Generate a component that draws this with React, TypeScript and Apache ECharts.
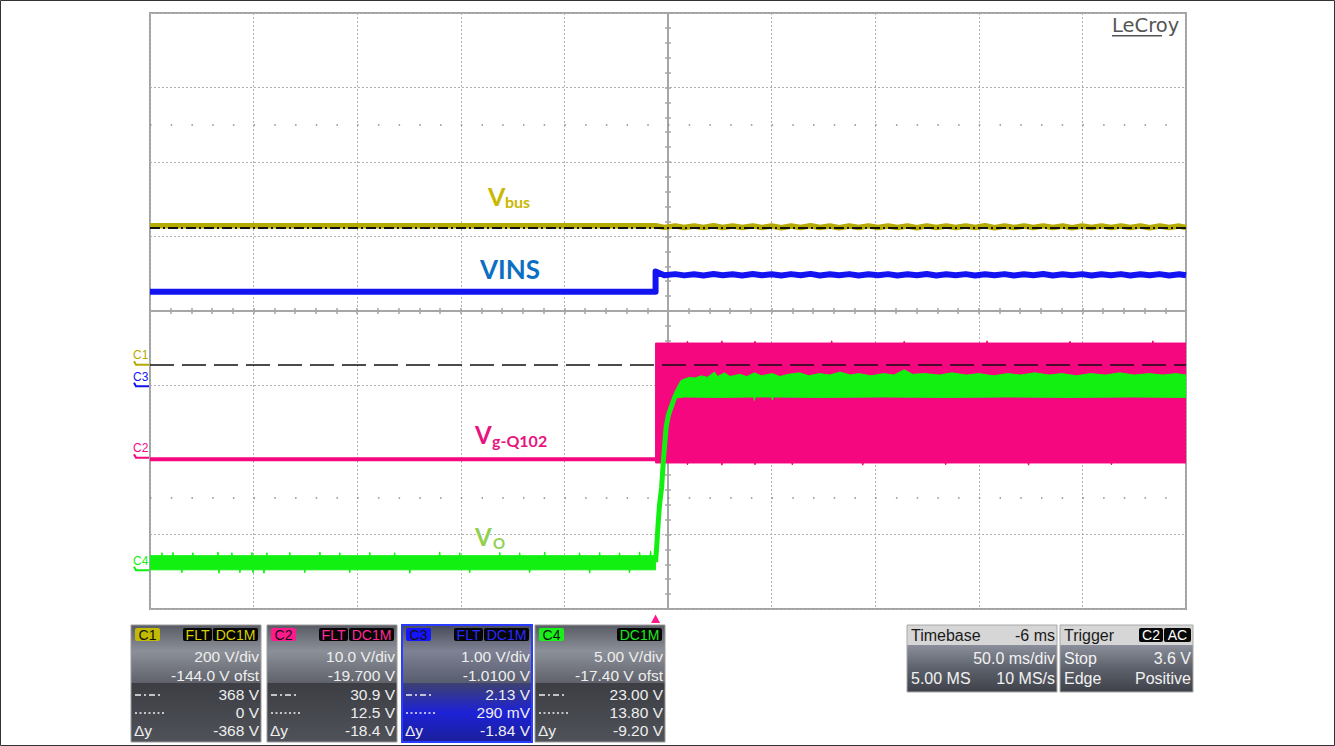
import React, { useEffect, useRef } from "react";
import * as echarts from "echarts";

// ---------- Acquisition settings ----------
// 50 ms/div, 10 divisions, trigger delay -6 ms  -> screen spans -244 ms .. 256 ms
const timeRange: [number, number] = [-244, 256];
const chNames = ["C1", "C2", "C3", "C4"];
const chScale = [200, 10, 1, 5]; // V/div
const chOffset = [-144, -19.7, -1.01, -17.4]; // V offset
const chTrace = ["#b4aa00", "#f5077f", "#1414f2", "#12f012"];
const chBadge = ["#c2ba00", "#ff1a8c", "#1414ff", "#18f018"];
const chBadgeText = ["#d8d000", "#ff2a96", "#2a2aff", "#1ee81e"];

// ---------- C1 : Vbus (V) ----------
const vbusPre: [number, number][] = [[-244, 373], [0, 373]];
const vbusPost: [number, number][] = [
  [0, 372], [4.2, 368.5], [9.5, 372.5], [13.8, 368], [18.6, 372], [23.1, 368], [28.0, 373], [32.4, 368],
  [37.2, 372], [41.8, 368], [46.9, 372.5], [51.3, 368], [56.0, 372], [60.7, 367.5], [65.4, 372], [70.0, 368],
  [74.8, 373], [79.3, 368], [84.1, 372], [88.6, 367.5], [93.5, 372], [98.0, 368], [102.8, 372.5], [107.4, 368],
  [112.2, 372], [116.7, 368], [121.6, 372], [126.1, 367.5], [130.9, 372.5], [135.5, 368], [140.3, 372], [144.8, 368],
  [149.7, 372], [154.2, 368], [159.0, 373], [163.6, 367.5], [168.4, 372], [172.9, 368], [177.8, 372], [182.3, 368],
  [187.1, 372.5], [191.7, 368], [196.5, 372], [201.0, 367.5], [205.9, 372], [210.4, 368], [215.2, 372.5], [219.8, 368],
  [224.6, 372], [229.1, 368], [234.0, 372], [238.5, 367.5], [243.3, 372], [247.9, 368], [252.7, 372], [256, 368],
];

// ---------- C3 : VINS (V) ----------
const vinsPre: [number, number][] = [[-244, 1.268], [0, 1.268]];
const vinsPost: [number, number][] = [
  [0, 1.54], [4.2, 1.49], [9.5, 1.505], [13.8, 1.488], [18.6, 1.503], [23.1, 1.487], [28.0, 1.507], [32.4, 1.49],
  [37.2, 1.503], [41.8, 1.487], [46.9, 1.506], [51.3, 1.49], [56.0, 1.503], [60.7, 1.486], [65.4, 1.505], [70.0, 1.49],
  [74.8, 1.508], [79.3, 1.487], [84.1, 1.503], [88.6, 1.49], [93.5, 1.505], [98.0, 1.486], [102.8, 1.503], [107.4, 1.49],
  [112.2, 1.505], [116.7, 1.487], [121.6, 1.503], [126.1, 1.49], [130.9, 1.507], [135.5, 1.486], [140.3, 1.503], [144.8, 1.49],
  [149.7, 1.505], [154.2, 1.487], [159.0, 1.503], [163.6, 1.49], [168.4, 1.505], [172.9, 1.486], [177.8, 1.503], [182.3, 1.49],
  [187.1, 1.507], [191.7, 1.487], [196.5, 1.503], [201.0, 1.49], [205.9, 1.505], [210.4, 1.486], [215.2, 1.503], [219.8, 1.49],
  [224.6, 1.505], [229.1, 1.487], [234.0, 1.503], [238.5, 1.49], [243.3, 1.505], [247.9, 1.486], [252.7, 1.503], [256, 1.49],
];

// ---------- C2 : Vg-Q102 (V) ----------
const vgPre: [number, number][] = [[-244, -0.2], [0, -0.2]];
const vgBandSpan: [number, number] = [0, 256];
const vgBandHigh = 15.4;
const vgBandLow = -0.7;
const vgHighSpikes: [number, number][] = [[15.4, 15.65], [32, 15.7], [48, 15.65], [85, 15.7], [120, 15.65], [160, 15.7], [200, 15.65], [240, 15.7]];
const vgLowSpikes: [number, number][] = [[15.4, -0.95], [32, -1.0], [48, -0.95], [66, -0.95], [100, -1.0], [140, -0.95], [180, -1.0], [220, -0.95]];

// ---------- C4 : Vo (V) ----------
const voPreSpan: [number, number] = [-244, 0];
const voPreHigh = 0.98;
const voPreLow = 0.03;
const voPreUpSpikes: [number, number][] = [
  [-238.2, 1.18], [-232.9, 1.2], [-223.3, 1.18], [-211.2, 1.23], [-204.5, 1.18], [-194.8, 1.2], [-187.6, 1.18],
  [-176.5, 1.2], [-162.0, 1.23], [-152.4, 1.18], [-137.9, 1.2], [-125.9, 1.18], [-104.2, 1.23], [-94.5, 1.18],
  [-75.2, 1.2], [-65.6, 1.18], [-53.5, 1.23], [-36.7, 1.18], [-27.0, 1.2], [-17.4, 1.18], [-7.7, 1.23], [-2.4, 1.3],
];
const voPreDownSpikes: [number, number][] = [
  [-228.6, -0.17], [-210.7, -0.2], [-200.6, -0.17], [-194.3, -0.17], [-189.0, -0.2], [-169.3, -0.17],
  [-147.6, -0.17], [-118.6, -0.2], [-89.7, -0.17], [-60.8, -0.17], [-31.8, -0.2], [-12.6, -0.17],
];
const voRise: [number, number][] = [
  [0, 0.55], [0.5, 1.5], [1.2, 3.04], [1.9, 4.38], [2.9, 5.52], [3.8, 7.4], [5.1, 9.61], [6.2, 10.42],
  [7.7, 11.02], [9.1, 11.56], [10.6, 12.03], [13.0, 12.63], [15.4, 12.77],
];
const voPlateauHigh: [number, number][] = [
  [9.1, 11.56], [13.0, 12.7], [16, 12.95], [19, 12.9], [22, 13.05], [25, 12.95], [28.4, 13.3], [30, 13.0], [33.2, 13.25],
  [36, 13.0], [40.5, 13.15], [44, 13.0], [47.7, 13.25], [51, 13.05], [56.4, 13.2], [60, 13.0], [64, 13.15], [69.4, 13.25],
  [74, 13.05], [79, 13.2], [84, 13.1], [89, 13.3], [94, 13.1], [98, 13.2], [104, 13.05], [110, 13.2], [115, 13.1],
  [120, 13.45], [124, 13.15], [130, 13.2], [137, 13.1], [143, 13.25], [150, 13.1], [156, 13.2], [163, 13.05], [170, 13.2],
  [176, 13.1], [183, 13.25], [190, 13.1], [196, 13.2], [203, 13.05], [210, 13.2], [217, 13.1], [224, 13.25], [231, 13.1],
  [238, 13.2], [245, 13.1], [251, 13.2], [256, 13.1],
];
const voPlateauLow: [number, number][] = [
  [9.1, 11.56], [14, 11.63], [30, 11.6], [47.3, 11.63], [47.7, 11.4], [48.1, 11.63], [56.0, 11.63], [56.4, 11.42],
  [56.8, 11.63], [80, 11.6], [110, 11.63], [140, 11.6], [170, 11.63], [200, 11.6], [230, 11.63], [256, 11.6],
];

// ---------- Cursors (C1 units) ----------
const cursorDashDot = 368;
const cursorDashed = 0;

// ---------- Panel texts ----------
const panelBadges = [["FLT", "DC1M"], ["FLT", "DC1M"], ["FLT", "DC1M"], ["DC1M"]];
const panelScale = ["200 V/div", "10.0 V/div", "1.00 V/div", "5.00 V/div"];
const panelOffset = ["-144.0 V ofst", "-19.700 V", "-1.0100 V", "-17.40 V ofst"];
const panelCursor1 = ["368 V", "30.9 V", "2.13 V", "23.00 V"];
const panelCursor2 = ["0 V", "12.5 V", "290 mV", "13.80 V"];
const panelDelta = ["-368 V", "-18.4 V", "-1.84 V", "-9.20 V"];
const timebaseRows = [["Timebase", "-6 ms"], ["", "50.0 ms/div"], ["5.00 MS", "10 MS/s"]];
const triggerRows = [["Trigger", ""], ["Stop", "3.6 V"], ["Edge", "Positive"]];
const triggerBadges = ["C2", "AC"];

// ---------- Trace annotations ----------
const annoMain = ["V", "VINS", "V", "V"];
const annoSub = ["bus", "", "g-Q102", "O"];
const annoColor = ["#c9b800", "#0b6fc2", "#e8137f", "#92d050"];

// ---------- layout constants ----------
const GL = 150, GT = 13, GW = 1036, GH = 596;
const DIVY = GH / 8;
const CY = GT + GH / 2;
const UI = "'Liberation Sans', Arial, sans-serif";
const LAB = "Lato, 'Open Sans', sans-serif";

function spikedEdge(span: [number, number], level: number, spikes: [number, number][]): [number, number][] {
  const pts: [number, number][] = [[span[0], level]];
  spikes.forEach(([t, v]) => {
    pts.push([t - 0.3, level], [t, v], [t + 0.3, level]);
  });
  pts.push([span[1], level]);
  return pts;
}

function bandSeries(top: [number, number][], bottom: [number, number][], yAxisIndex: number, color: string, z: number) {
  return {
    type: "custom",
    xAxisIndex: 2,
    yAxisIndex,
    z,
    silent: true,
    clip: true,
    data: [top[0]],
    renderItem: (_p: any, api: any) => {
      const pts = top.map((p) => api.coord(p)).concat(bottom.slice().reverse().map((p) => api.coord(p)));
      return { type: "polygon", shape: { points: pts }, style: { fill: color, stroke: color, lineWidth: 1 } };
    },
  };
}

function txt(x: number, y: number, text: string, size: number, color: string, extra: any = {}) {
  const align = extra.align || "left";
  return {
    type: "text",
    x,
    y,
    z: 100,
    silent: true,
    style: {
      text,
      fontSize: size,
      fontFamily: extra.fontFamily || UI,
      fontWeight: extra.fontWeight || "normal",
      fill: color,
      align,
      textAlign: align,
      verticalAlign: "middle",
      textVerticalAlign: "middle",
    },
  };
}

function grad(stops: [number, string][]) {
  return new echarts.graphic.LinearGradient(0, 0, 0, 1, stops.map(([offset, color]) => ({ offset, color })));
}

function buildGraphic() {
  const g: any[] = [];
  // annotations
  const annoPos = [
    { x: 488, y: 195.5, sx: 505, sy: 201, s: 25, ss: 16 },
    { x: 480, y: 269, sx: 0, sy: 0, s: 26, ss: 16 },
    { x: 475, y: 434, sx: 492, sy: 440.5, s: 24, ss: 16 },
    { x: 475, y: 536, sx: 493, sy: 542.5, s: 24, ss: 15 },
  ];
  annoMain.forEach((m, i) => {
    const p = annoPos[i];
    g.push(txt(p.x, p.y, m, p.s, annoColor[i], { fontFamily: LAB, fontWeight: "bold" }));
    if (annoSub[i]) g.push(txt(p.sx, p.sy, annoSub[i], p.ss, annoColor[i], { fontFamily: LAB, fontWeight: "bold" }));
  });
  // channel ground markers (0 V level of each channel)
  chNames.forEach((n, k) => {
    const gy = CY - (chOffset[k] / chScale[k]) * DIVY;
    g.push(txt(133, gy - 9.5, n, 12, chTrace[k]));
    g.push({
      type: "polyline",
      z: 100,
      silent: true,
      shape: { points: [[134, gy - 3.5], [136, gy], [149, gy]] },
      style: { stroke: chTrace[k], lineWidth: 2, fill: "none" },
    });
  });
  // trigger marker
  const tx = GL + ((0 - timeRange[0]) / (timeRange[1] - timeRange[0])) * GW;
  g.push({
    type: "polygon",
    z: 100,
    silent: true,
    shape: { points: [[tx - 4.5, 623], [tx, 614.5], [tx + 4.5, 623]] },
    style: { fill: "#ff1a8c" },
  });
  // LeCroy logo
  g.push(txt(1112, 25, "LeCroy", 19.5, "#555555", { fontFamily: "'DejaVu Sans', sans-serif" }));
  g.push({ type: "line", z: 100, silent: true, shape: { x1: 1112, y1: 35.7, x2: 1162, y2: 35.7 }, style: { stroke: "#555555", lineWidth: 1.4 } });

  // channel panels
  const panelLeft = [131, 267, 402, 535];
  const PW = 130, PT = 625, PH1 = 58, PH2 = 59;
  chNames.forEach((n, i) => {
    const L = panelLeft[i];
    const sel = i === 2;
    g.push({
      type: "rect", z: 90, silent: true,
      shape: { x: L, y: PT, width: PW, height: PH1 },
      style: { fill: sel ? grad([[0, "#474a57"], [0.45, "#7e8294"], [1, "#585c6f"]]) : grad([[0, "#585b63"], [0.45, "#8c9098"], [1, "#5f626a"]]) },
    });
    g.push({
      type: "rect", z: 90, silent: true,
      shape: { x: L, y: PT + PH1, width: PW, height: PH2 },
      style: { fill: sel ? grad([[0, "#3d4170"], [0.5, "#1d22d6"], [1, "#1b1f9a"]]) : grad([[0, "#3c3e44"], [1, "#505259"]]) },
    });
    g.push({
      type: "rect", z: 91, silent: true,
      shape: { x: L, y: PT, width: PW, height: PH1 + PH2 },
      style: { fill: "none", stroke: sel ? "#2a3cff" : "#9a9a9a", lineWidth: sel ? 2 : 1 },
    });
    // channel badge
    g.push({ type: "rect", z: 92, silent: true, shape: { x: L + 4, y: 628, width: 25, height: 13, r: 2 }, style: { fill: chBadge[i] } });
    g.push(txt(L + 16.5, 634.8, n, 14, "#111", { align: "center" }));
    const bx = panelBadges[i].length === 2 ? [L + 52, L + 82] : [L + 82];
    const bw = panelBadges[i].length === 2 ? [29, 45] : [45];
    panelBadges[i].forEach((b, j) => {
      g.push({ type: "rect", z: 92, silent: true, shape: { x: bx[j], y: 628, width: bw[j], height: 13, r: 2 }, style: { fill: "#060606" } });
      g.push(txt(bx[j] + bw[j] / 2, 634.8, b, 14, chBadgeText[i], { align: "center" }));
    });
    const R = L + 128;
    const col = "#eeeeee";
    g.push(txt(R, 656.5, panelScale[i], 15.5, col, { align: "right" }));
    g.push(txt(R, 675, panelOffset[i], 15.5, col, { align: "right" }));
    g.push(txt(R, 694.5, panelCursor1[i], 15.5, col, { align: "right" }));
    g.push(txt(R, 712.5, panelCursor2[i], 15.5, col, { align: "right" }));
    g.push(txt(R, 730, panelDelta[i], 15.5, col, { align: "right" }));
    g.push({ type: "line", z: 100, silent: true, shape: { x1: L + 4, y1: 695, x2: L + 31, y2: 695 }, style: { stroke: col, lineWidth: 1.3, lineDash: [6, 3, 2, 3] } });
    g.push({ type: "line", z: 100, silent: true, shape: { x1: L + 4, y1: 713, x2: L + 33, y2: 713 }, style: { stroke: col, lineWidth: 1.3, lineDash: [2, 2.5] } });
    g.push(txt(L + 3, 730, "Δy", 15.5, col));
  });

  // timebase & trigger panels
  const infoPanels = [
    { L: 907, W: 150, rows: timebaseRows, badges: [] as string[] },
    { L: 1060, W: 133, rows: triggerRows, badges: triggerBadges },
  ];
  infoPanels.forEach((p) => {
    g.push({ type: "rect", z: 90, silent: true, shape: { x: p.L, y: 625, width: p.W, height: 20 }, style: { fill: "#d6d6d6" } });
    g.push({ type: "rect", z: 90, silent: true, shape: { x: p.L, y: 645, width: p.W, height: 47 }, style: { fill: grad([[0, "#8a8f9b"], [0.5, "#5d616b"], [1, "#3e4148"]]) } });
    g.push({ type: "rect", z: 91, silent: true, shape: { x: p.L, y: 625, width: p.W, height: 67 }, style: { fill: "none", stroke: "#a8a8a8", lineWidth: 1 } });
    const ys = [635, 658, 678];
    p.rows.forEach((r, j) => {
      const c = j === 0 ? "#1a1a1a" : "#f2f2f2";
      if (r[0]) g.push(txt(p.L + 4, ys[j], r[0], 16, c));
      if (r[1]) g.push(txt(p.L + p.W - 2, ys[j], r[1], 16, c, { align: "right" }));
    });
    let bx = p.L + p.W - 2;
    const bws = [24, 27];
    for (let j = p.badges.length - 1; j >= 0; j--) {
      const w = bws[j];
      bx -= w;
      g.push({ type: "rect", z: 92, silent: true, shape: { x: bx, y: 628, width: w, height: 14, r: 2 }, style: { fill: "#080808" } });
      g.push(txt(bx + w / 2, 635.2, p.badges[j], 14, "#ffffff", { align: "center" }));
      bx -= 1;
    }
  });

  // outer frame
  g.push({ type: "rect", z: 110, silent: true, shape: { x: 0.5, y: 0.5, width: 1334, height: 745 }, style: { fill: "none", stroke: "#333", lineWidth: 1 } });
  return g;
}

function buildOption() {
  const gridLine = { color: "#b0b0b0", width: 1, type: [2, 2] };
  const center = { color: "#a6a6a6", width: 2 };
  const tickStyle = { color: "#a6a6a6", width: 1.5 };
  const divAxis = (pos: string, split: boolean, range: [number, number], onZeroIdx: number) => ({
    type: "value",
    min: range[0],
    max: range[1],
    interval: 1,
    position: pos,
    axisLine: { show: true, onZero: true, onZeroAxisIndex: onZeroIdx, lineStyle: center },
    axisTick: { show: true, length: 3, lineStyle: tickStyle },
    minorTick: { show: true, splitNumber: 5, length: 3, lineStyle: tickStyle },
    axisLabel: { show: false },
    splitLine: { show: split, lineStyle: gridLine },
    minorSplitLine: { show: false },
  });

  const series: any[] = [];
  // half-division dot rows
  series.push({
    type: "line", xAxisIndex: 0, yAxisIndex: 0, data: [], symbol: "none", silent: true, z: 1,
    markLine: {
      symbol: "none", silent: true, label: { show: false }, emphasis: { disabled: true },
      lineStyle: { color: "#8c8c8c", width: 1.5, type: [1.5, GW / 50 - 1.5] },
      data: [{ yAxis: 2.5 }, { yAxis: -2.5 }],
    },
  });
  // C2
  series.push({
    type: "line", name: "C2", xAxisIndex: 2, yAxisIndex: 3, data: vgPre, symbol: "none", silent: true, z: 2,
    lineStyle: { color: chTrace[1], width: 4 },
  });
  series.push(bandSeries(spikedEdge(vgBandSpan, vgBandHigh, vgHighSpikes), spikedEdge(vgBandSpan, vgBandLow, vgLowSpikes), 3, chTrace[1], 2));
  // C1
  series.push({
    type: "line", name: "C1", xAxisIndex: 2, yAxisIndex: 2, data: [...vbusPre, ...vbusPost], symbol: "none", silent: true, z: 3,
    lineStyle: { color: chTrace[0], width: 5.5, join: "round" },
  });
  // C3
  series.push({
    type: "line", name: "C3", xAxisIndex: 2, yAxisIndex: 4, data: [...vinsPre, ...vinsPost], symbol: "none", silent: true, z: 3,
    lineStyle: { color: chTrace[2], width: 6, join: "round" },
  });
  // C4
  series.push(bandSeries(spikedEdge(voPreSpan, voPreHigh, voPreUpSpikes), spikedEdge(voPreSpan, voPreLow, voPreDownSpikes), 5, chTrace[3], 4));
  series.push(bandSeries(voPlateauHigh, voPlateauLow, 5, chTrace[3], 4));
  series.push({
    type: "line", name: "C4", xAxisIndex: 2, yAxisIndex: 5, data: voRise, symbol: "none", silent: true, z: 4,
    lineStyle: { color: chTrace[3], width: 5, join: "round" },
  });
  // cursors
  series.push({
    type: "line", xAxisIndex: 2, yAxisIndex: 2, data: [], symbol: "none", silent: true, z: 6,
    markLine: {
      symbol: "none", silent: true, label: { show: false }, emphasis: { disabled: true },
      data: [
        { yAxis: cursorDashDot, lineStyle: { color: "#111", width: 2, type: [10, 3, 2, 3] } },
        { yAxis: cursorDashed, lineStyle: { color: "#111", width: 1.5, type: [24, 8] } },
      ],
    },
  });

  return {
    animation: false,
    backgroundColor: "#ffffff",
    grid: { left: GL, top: GT, width: GW, height: GH, show: true, borderColor: "#a3a3a3", borderWidth: 2, backgroundColor: "#ffffff" },
    xAxis: [
      divAxis("bottom", true, [-5, 5], 0),
      divAxis("top", false, [-5, 5], 0),
      { type: "value", min: timeRange[0], max: timeRange[1], show: false },
    ],
    yAxis: [
      divAxis("left", true, [-4, 4], 0),
      divAxis("right", false, [-4, 4], 0),
      ...chScale.map((s, k) => ({ type: "value", min: -4 * s - chOffset[k], max: 4 * s - chOffset[k], show: false })),
    ],
    series,
    graphic: { elements: buildGraphic() },
  };
}

export default function App() {
  const ref = useRef<HTMLDivElement>(null);
  useEffect(() => {
    const chart = echarts.init(ref.current!, null, { renderer: "svg" });
    chart.setOption(buildOption() as any);
    return () => chart.dispose();
  }, []);
  return (
    <div
      ref={ref}
      style={{ position: "absolute", left: 0, top: 0, width: 1335, height: 746, background: "#fff" }}
    />
  );
}
